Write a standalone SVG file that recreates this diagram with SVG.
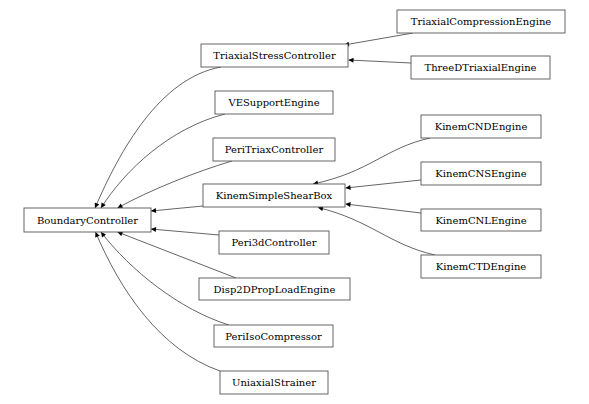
<svg xmlns="http://www.w3.org/2000/svg" width="589" height="404" viewBox="0 0 589 404">
<style>
.n rect{fill:#fff;stroke:#555;stroke-width:0.9}
.n text{font-family:"DejaVu Serif","Liberation Serif",serif;font-size:10px;fill:#000;text-anchor:middle;dominant-baseline:central}
.e path{fill:none;stroke:#222;stroke-width:0.7;marker-end:url(#ah)}
</style>
<defs>
<marker id="ah" viewBox="0 0 10 10" refX="10" refY="5" markerWidth="7" markerHeight="5" markerUnits="userSpaceOnUse" orient="auto">
<path d="M0,0 L10,5 L0,10 Z" fill="#000"/>
</marker>
</defs>
<rect width="589" height="404" fill="#fff"/>
<g id="connectors" class="e">
<path d="M221,67 C160,78 120,150 95,208"/>
<path d="M225,114 C170,128 125,170 101,208"/>
<path d="M232,161 C195,172 150,190 117.5,208"/>
<path d="M203,206 L151,211"/>
<path d="M219,235 L151,229"/>
<path d="M236,278 L117.5,232"/>
<path d="M229,325 C180,310 130,270 101,232"/>
<path d="M220,371 C160,350 120,290 95.5,232"/>
<path d="M413,33 L344,45"/>
<path d="M411,63 L348.5,60"/>
<path d="M430,138 C385,148 370,172 313,184"/>
<path d="M421,180 L345.5,188"/>
<path d="M421,213 L345.5,204"/>
<path d="M435,255 C390,245 370,220 318,207.5"/>
</g>
<g id="BoundaryController" class="n"><rect x="24" y="208" width="127" height="24"/><text x="87.5" y="220">BoundaryController</text></g>
<g id="TriaxialStressController" class="n"><rect x="201" y="44" width="147" height="23"/><text x="274.5" y="55.5">TriaxialStressController</text></g>
<g id="VESupportEngine" class="n"><rect x="215" y="91" width="118" height="23"/><text x="274" y="102.5">VESupportEngine</text></g>
<g id="PeriTriaxController" class="n"><rect x="213" y="138" width="122" height="23"/><text x="274" y="149.5">PeriTriaxController</text></g>
<g id="KinemSimpleShearBox" class="n"><rect x="203" y="184" width="142" height="23"/><text x="274" y="195.5">KinemSimpleShearBox</text></g>
<g id="Peri3dController" class="n"><rect x="219" y="231" width="110" height="23"/><text x="274" y="242.5">Peri3dController</text></g>
<g id="Disp2DPropLoadEngine" class="n"><rect x="199" y="278" width="151" height="22"/><text x="274.5" y="289">Disp2DPropLoadEngine</text></g>
<g id="PeriIsoCompressor" class="n"><rect x="214" y="325" width="119" height="22"/><text x="273.5" y="336">PeriIsoCompressor</text></g>
<g id="UniaxialStrainer" class="n"><rect x="220" y="371" width="108" height="23"/><text x="274" y="382.5">UniaxialStrainer</text></g>
<g id="TriaxialCompressionEngine" class="n"><rect x="397" y="10" width="168" height="23"/><text x="481" y="21.5">TriaxialCompressionEngine</text></g>
<g id="ThreeDTriaxialEngine" class="n"><rect x="411" y="56" width="139" height="23"/><text x="480.5" y="67.5">ThreeDTriaxialEngine</text></g>
<g id="KinemCNDEngine" class="n"><rect x="421" y="115" width="120" height="23"/><text x="481" y="126.5">KinemCNDEngine</text></g>
<g id="KinemCNSEngine" class="n"><rect x="421" y="162" width="120" height="23"/><text x="481" y="173.5">KinemCNSEngine</text></g>
<g id="KinemCNLEngine" class="n"><rect x="421" y="209" width="120" height="22"/><text x="481" y="220">KinemCNLEngine</text></g>
<g id="KinemCTDEngine" class="n"><rect x="421" y="255" width="120" height="23"/><text x="481" y="266.5">KinemCTDEngine</text></g>
</svg>
